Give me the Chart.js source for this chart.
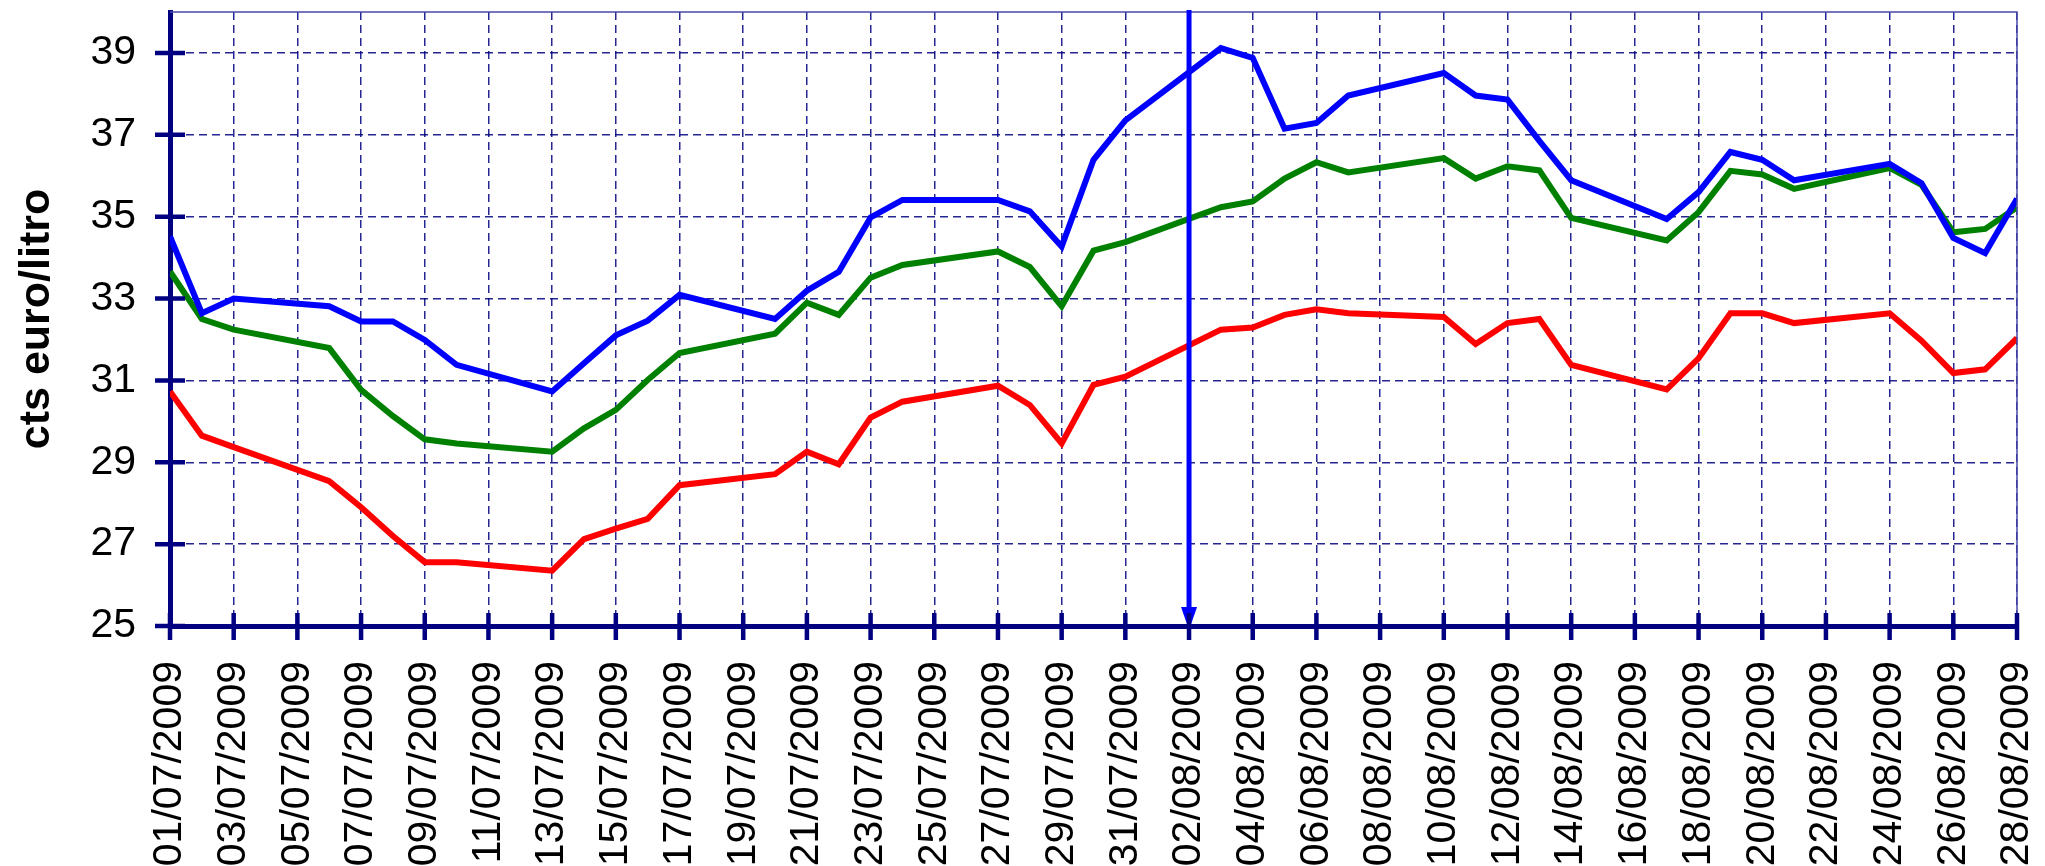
<!DOCTYPE html>
<html>
<head>
<meta charset="utf-8">
<script src="https://cdn.jsdelivr.net/npm/chart.js@4.4.0/dist/chart.umd.min.js"></script>
<style>
  html, body { margin: 0; padding: 0; background: #fff; }
  #wrap { width: 2045px; height: 866px; }
</style>
</head>
<body>
<div id="wrap"><canvas id="chart" width="2045" height="866"></canvas></div>
<script>
// trading days
const dates = [
  "01/07/2009", "02/07/2009", "03/07/2009",
  "06/07/2009", "07/07/2009", "08/07/2009", "09/07/2009", "10/07/2009",
  "13/07/2009", "14/07/2009", "15/07/2009", "16/07/2009", "17/07/2009",
  "20/07/2009", "21/07/2009", "22/07/2009", "23/07/2009", "24/07/2009",
  "27/07/2009", "28/07/2009", "29/07/2009", "30/07/2009", "31/07/2009",
  "03/08/2009", "04/08/2009", "05/08/2009", "06/08/2009", "07/08/2009",
  "10/08/2009", "11/08/2009", "12/08/2009", "13/08/2009", "14/08/2009",
  "17/08/2009", "18/08/2009", "19/08/2009", "20/08/2009", "21/08/2009",
  "24/08/2009", "25/08/2009", "26/08/2009", "27/08/2009", "28/08/2009"
];

const blue = [
  34.52, 32.64, 33.00,
  32.81, 32.44, 32.44, 31.99, 31.38,
  30.73, 31.42, 32.10, 32.46, 33.09,
  32.50, 33.19, 33.65, 34.98, 35.41,
  35.41, 35.13, 34.27, 36.39, 37.35,
  39.12, 38.88, 37.15, 37.29, 37.96,
  38.51, 37.96, 37.86, 36.85, 35.89,
  34.94, 35.60, 36.58, 36.39, 35.89,
  36.29, 35.82, 34.48, 34.11, 35.44
];

const green = [
  33.66, 32.50, 32.24,
  31.79, 30.77, 30.13, 29.56, 29.46,
  29.26, 29.83, 30.28, 31.01, 31.67,
  32.14, 32.90, 32.60, 33.51, 33.82,
  34.15, 33.77, 32.81, 34.17, 34.38,
  35.23, 35.37, 35.93, 36.33, 36.08,
  36.43, 35.93, 36.23, 36.13, 34.97,
  34.42, 35.11, 36.12, 36.03, 35.68,
  36.19, 35.78, 34.62, 34.70, 35.23
];

const red = [
  30.73, 29.65, 29.37,
  28.54, 27.90, 27.20, 26.56, 26.56,
  26.35, 27.12, 27.38, 27.62, 28.44,
  28.71, 29.26, 28.95, 30.09, 30.48,
  30.87, 30.40, 29.46, 30.89, 31.09,
  32.24, 32.29, 32.60, 32.74, 32.64,
  32.55, 31.89, 32.40, 32.50, 31.38,
  30.78, 31.54, 32.64, 32.64, 32.40,
  32.64, 31.97, 31.18, 31.27, 32.03
];

const tickLabels = [
  "01/07/2009", "03/07/2009", "05/07/2009", "07/07/2009", "09/07/2009",
  "11/07/2009", "13/07/2009", "15/07/2009", "17/07/2009", "19/07/2009",
  "21/07/2009", "23/07/2009", "25/07/2009", "27/07/2009", "29/07/2009",
  "31/07/2009", "02/08/2009", "04/08/2009", "06/08/2009", "08/08/2009",
  "10/08/2009", "12/08/2009", "14/08/2009", "16/08/2009", "18/08/2009",
  "20/08/2009", "22/08/2009", "24/08/2009", "26/08/2009", "28/08/2009"
];

const yTicks = [25, 27, 29, 31, 33, 35, 37, 39];
const yMin = 25, yMax = 40;
const arrowDate = "02/08/2009";

const navy = "#000080";
const font = "'Liberation Sans', Arial, sans-serif";

// days since first tick label
function dayNum(s) {
  const p = s.split("/");
  const f = tickLabels[0].split("/");
  return (Date.UTC(+p[2], +p[1] - 1, +p[0]) - Date.UTC(+f[2], +f[1] - 1, +f[0])) / 86400000;
}

function series(vals) {
  return dates.map((d, i) => ({ x: dayNum(d), y: vals[i] }));
}

// frame, crossing tick marks and the arrow
const extras = {
  id: "extras",
  afterDatasetsDraw(chart) {
    const ctx = chart.ctx;
    const a = chart.chartArea;
    const xs = chart.scales.x, ys = chart.scales.y;

    ctx.save();
    ctx.strokeStyle = "#4a4aa8";
    ctx.lineWidth = 1.5;
    ctx.beginPath();
    ctx.moveTo(a.left, a.top);
    ctx.lineTo(a.right, a.top);
    ctx.lineTo(a.right, a.bottom);
    ctx.stroke();

    // arrow
    const ax = xs.getPixelForValue(dayNum(arrowDate));
    ctx.strokeStyle = "#0000ff";
    ctx.fillStyle = "#0000ff";
    ctx.lineWidth = 5;
    ctx.beginPath();
    ctx.moveTo(ax, a.top - 2);
    ctx.lineTo(ax, a.bottom - 14);
    ctx.stroke();
    ctx.beginPath();
    ctx.moveTo(ax - 8, a.bottom - 19);
    ctx.lineTo(ax + 8, a.bottom - 19);
    ctx.lineTo(ax, a.bottom + 4);
    ctx.closePath();
    ctx.fill();

    // axis ticks
    ctx.strokeStyle = navy;
    ctx.lineWidth = 4.5;
    ctx.beginPath();
    tickLabels.forEach(s => {
      const x = xs.getPixelForValue(dayNum(s));
      ctx.moveTo(x, a.bottom - 13);
      ctx.lineTo(x, a.bottom + 14);
    });
    yTicks.forEach(v => {
      const y = ys.getPixelForValue(v);
      ctx.moveTo(a.left - 15, y);
      ctx.lineTo(a.left + 15, y);
    });
    ctx.stroke();
    ctx.restore();
  }
};

new Chart(document.getElementById("chart"), {
  type: "line",
  data: {
    datasets: [
      { label: "blue", data: series(blue), borderColor: "#0000ff" },
      { label: "green", data: series(green), borderColor: "#008000" },
      { label: "red", data: series(red), borderColor: "#ff0000" }
    ]
  },
  options: {
    responsive: false,
    animation: false,
    layout: { padding: { top: 12, right: 28, left: 0, bottom: 0 } },
    elements: {
      line: { borderWidth: 6, tension: 0, borderJoinStyle: "miter" },
      point: { radius: 0 }
    },
    plugins: {
      legend: { display: false },
      tooltip: { enabled: false }
    },
    scales: {
      x: {
        type: "linear",
        min: 0,
        max: dayNum(tickLabels[tickLabels.length - 1]),
        afterBuildTicks: s => { s.ticks = tickLabels.map(t => ({ value: dayNum(t) })); },
        afterFit: s => { s.height = 240; s.paddingLeft = 0; s.paddingRight = 0; },
        border: { color: navy, width: 5, dash: [8, 5] },
        grid: {
          color: "rgba(0,0,128,0.85)",
          lineWidth: 1.5,
          drawTicks: false
        },
        ticks: {
          autoSkip: false,
          maxRotation: 90,
          minRotation: 90,
          padding: 35,
          color: "#000",
          font: { family: font, size: 41 },
          callback: (v, i) => tickLabels[i]
        }
      },
      y: {
        min: yMin,
        max: yMax,
        afterBuildTicks: s => { s.ticks = yTicks.map(v => ({ value: v })); },
        afterFit: s => { s.width = 170; s.paddingTop = 0; s.paddingBottom = 0; },
        border: { color: navy, width: 5, dash: [8, 5] },
        grid: {
          color: "rgba(0,0,128,0.85)",
          lineWidth: 1.5,
          drawTicks: false
        },
        ticks: {
          padding: 34,
          color: "#000",
          font: { family: font, size: 41 }
        },
        title: {
          display: true,
          text: "cts euro/litro",
          color: "#000",
          font: { family: font, size: 43, weight: "bold" },
          padding: { top: 11, bottom: 0 }
        }
      }
    }
  },
  plugins: [extras]
});
</script>
</body>
</html>
